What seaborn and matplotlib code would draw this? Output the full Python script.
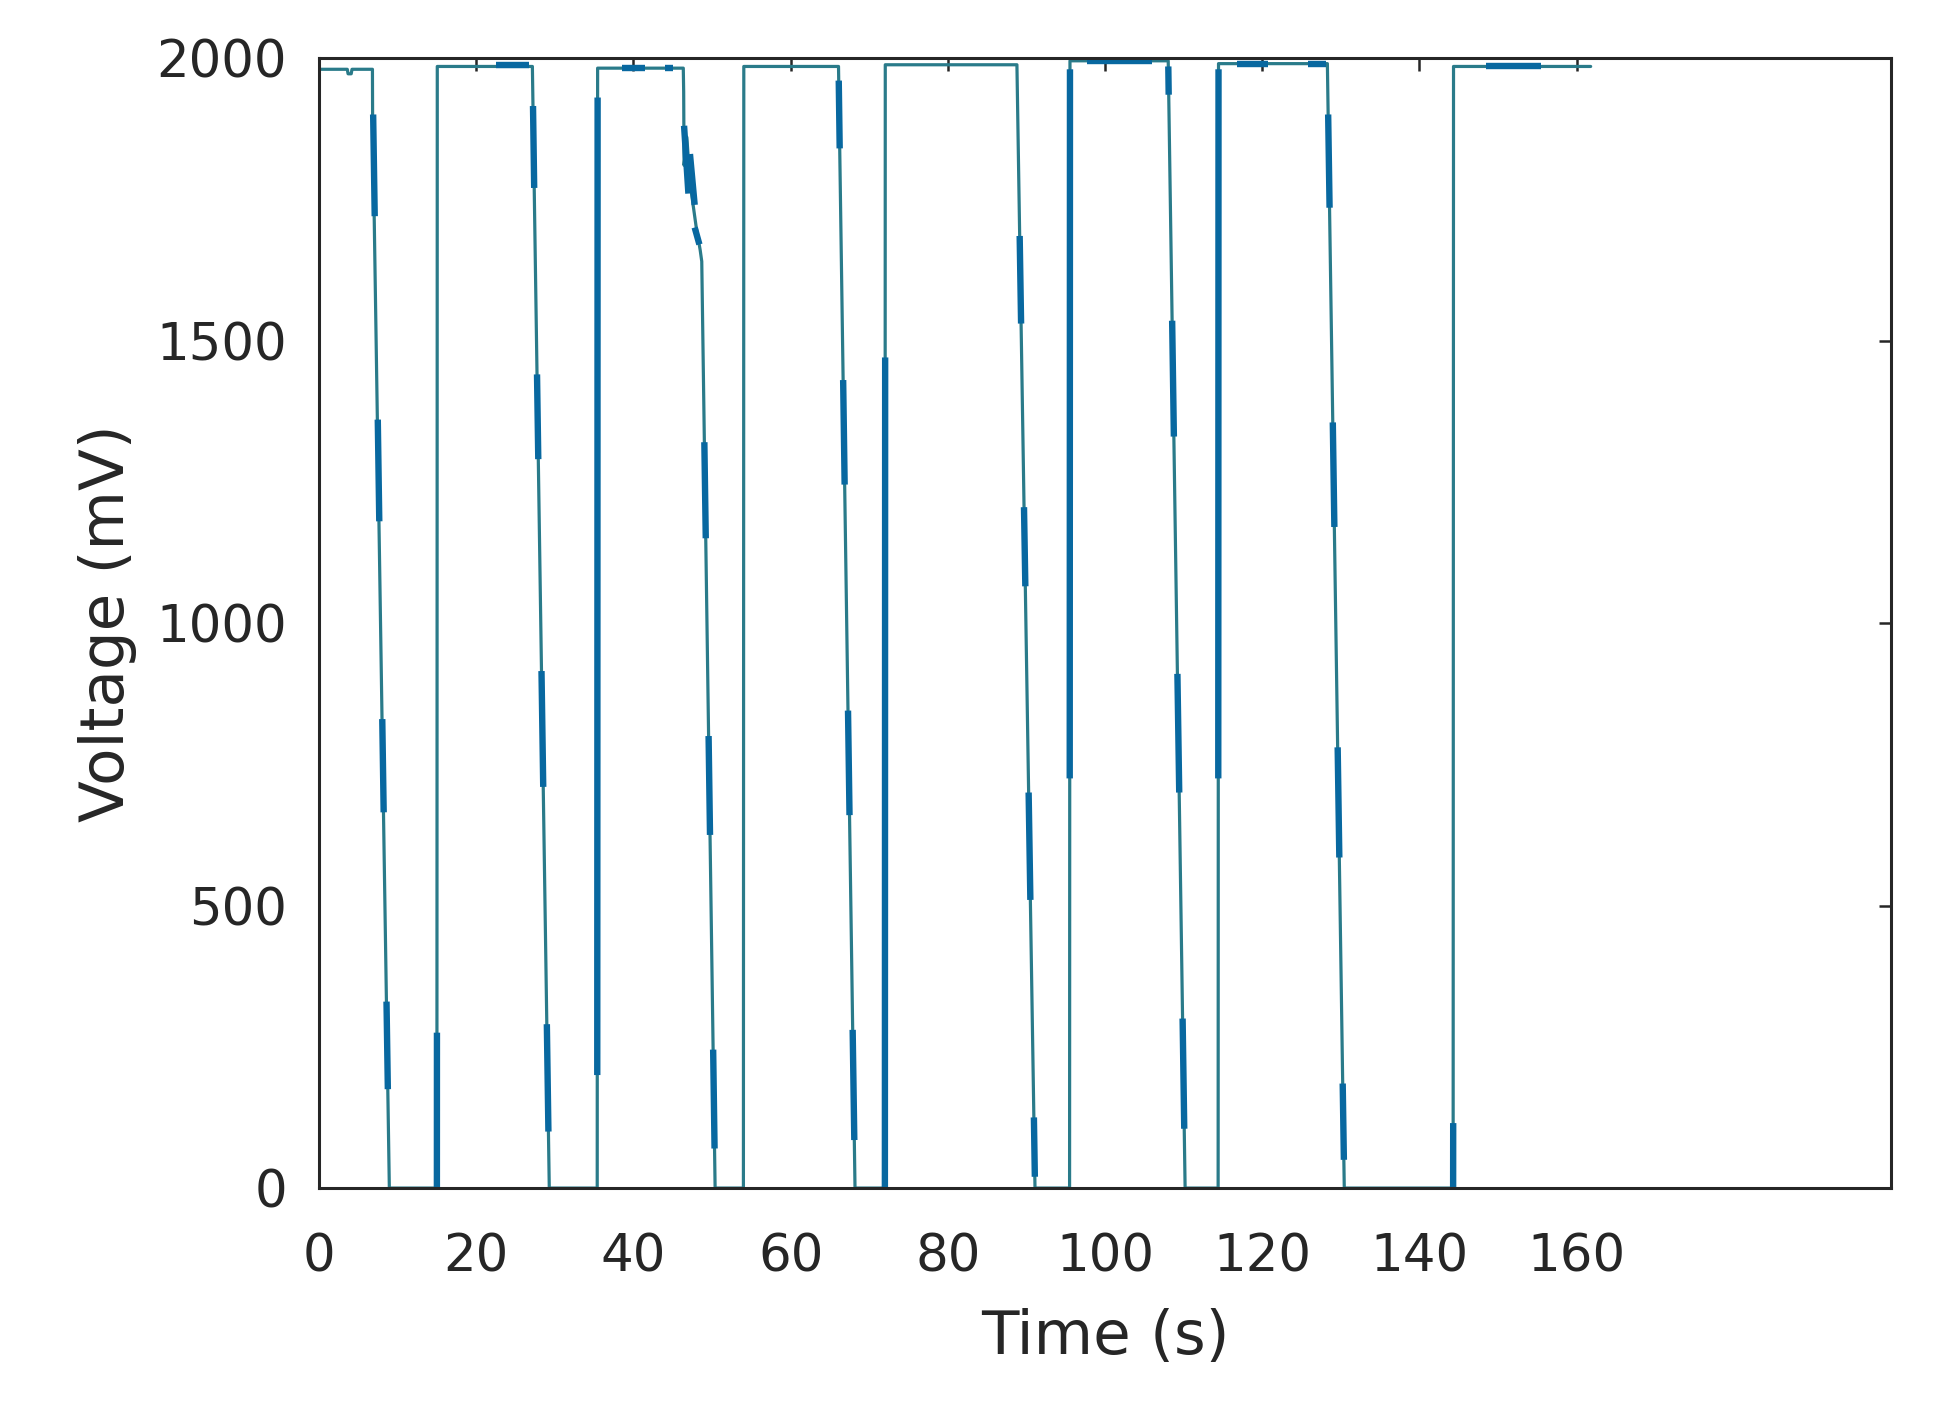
import matplotlib
matplotlib.use("Agg")
import matplotlib.pyplot as plt
import numpy as np
import pandas as pd
import seaborn as sns

# Main trace: breakpoints of the recorded voltage (time in s, voltage in mV)
time_s = [
    0.0, 3.6, 3.7, 4.1, 4.2, 6.8, 6.82, 8.95,
    15.0, 15.05, 27.15, 29.3,
    35.4, 35.45, 46.35, 46.4, 46.45, 46.8, 47.2, 47.6, 48.0, 48.5, 48.7, 50.4,
    54.0, 54.05, 66.1, 68.2,
    72.0, 72.05, 88.8, 91.1,
    95.5, 95.55, 108.05, 110.2,
    114.4, 114.45, 128.3, 130.45,
    144.3, 144.35, 161.8,
]
voltage_mv = [
    1980, 1980, 1972, 1972, 1980, 1980, 1900, 0,
    0, 1985, 1985, 0,
    0, 1982, 1982, 1940, 1810, 1860, 1780, 1740, 1700, 1660, 1640, 0,
    0, 1985, 1985, 0,
    0, 1988, 1988, 0,
    0, 1995, 1995, 0,
    0, 1990, 1990, 0,
    0, 1985, 1985,
]

# Dense (noisy) stretches that show up as thick strokes: start/end time and voltage
band_t0 = [6.89, 7.48, 8.05, 8.59, 15.0, 22.5,
           27.23, 27.74, 28.31, 28.99, 35.405, 38.5, 44.0,
           46.45, 47.2, 47.8, 49.03, 49.57, 50.15,
           66.13, 66.69, 67.31, 67.90, 72.0,
           89.15, 89.70, 90.29, 90.96, 95.518, 97.7,
           108.06, 108.55, 109.22, 109.88, 114.418, 116.8, 125.8,
           128.40, 128.99, 129.61, 130.25, 144.3, 148.5]
band_v0 = [1900, 1360, 830, 330, 0, 1988,
           1915, 1440, 915, 290, 200, 1982, 1982,
           1880, 1830, 1700, 1320, 800, 245,
           1960, 1430, 845, 280, 0,
           1685, 1205, 700, 125, 725, 1995,
           1985, 1535, 910, 300, 725, 1990, 1990,
           1900, 1355, 780, 185, 0, 1985]
band_t1 = [7.09, 7.67, 8.23, 8.76, 15.007, 26.7,
           27.38, 27.90, 28.53, 29.19, 35.45, 41.5, 45.0,
           47.0, 47.8, 48.4, 49.21, 49.75, 50.33,
           66.25, 66.88, 67.50, 68.11, 72.035,
           89.33, 89.87, 90.51, 91.08, 95.55, 106.0,
           108.11, 108.77, 109.45, 110.09, 114.45, 120.7, 128.1,
           128.58, 129.19, 129.82, 130.40, 144.308, 155.5]
band_v1 = [1720, 1180, 665, 175, 275, 1988,
           1770, 1290, 710, 100, 1930, 1982, 1982,
           1760, 1740, 1670, 1150, 625, 70,
           1840, 1245, 660, 85, 1470,
           1530, 1065, 510, 20, 1980, 1995,
           1935, 1330, 700, 105, 1980, 1990, 1990,
           1735, 1170, 585, 50, 115, 1985]

x_ticks = [0, 20, 40, 60, 80, 100, 120, 140, 160]
y_ticks = [0, 500, 1000, 1500, 2000]

trace = pd.DataFrame({"Time (s)": time_s, "Voltage (mV)": voltage_mv})
bands = pd.DataFrame({
    "band": list(range(len(band_t0))) * 2,
    "Time (s)": band_t0 + band_t1,
    "Voltage (mV)": band_v0 + band_v1,
})

sns.set_style("white")
plt.rcParams["font.family"] = ["DejaVu Sans"]

fig = plt.figure(figsize=(19.38, 14.04), dpi=100)
ax = fig.add_axes([0.1646, 0.1538, 0.8111, 0.8049])

sns.lineplot(data=trace, x="Time (s)", y="Voltage (mV)", sort=False,
             estimator=None, color="#2a7b8a", lw=2.3, ax=ax)
sns.lineplot(data=bands, x="Time (s)", y="Voltage (mV)", units="band", sort=False,
             estimator=None, color="#0868a0", lw=4.6, ax=ax,
             solid_capstyle="butt")

ax.set_xlim(0, 200)
ax.set_ylim(0, 2000)
ax.set_xticks(x_ticks)
ax.set_yticks(y_ticks)

frame = "#262626"
for side in ax.spines.values():
    side.set_visible(True)
    side.set_color(frame)
    side.set_linewidth(2.2)
ax.tick_params(axis="both", direction="in", top=True, right=True, length=9,
               width=1.8, color=frame, labelcolor=frame, labelsize=37)
ax.tick_params(axis="x", pad=32)
ax.tick_params(axis="y", pad=23)
ax.set_xlabel("Time (s)", fontsize=44, color=frame, labelpad=18)
ax.set_ylabel("Voltage (mV)", fontsize=44, color=frame, labelpad=14)

fig.savefig("out.png", dpi=100, facecolor="white")
